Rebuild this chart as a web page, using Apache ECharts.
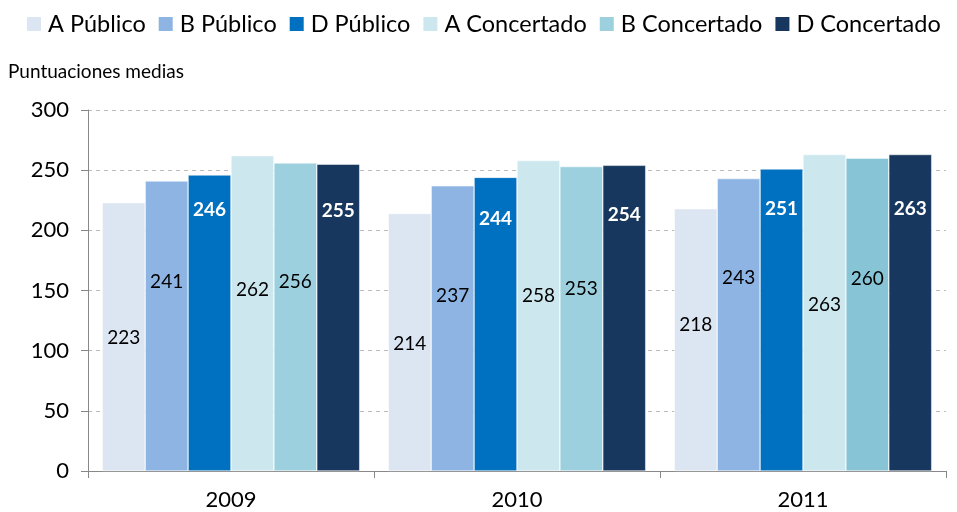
<!DOCTYPE html>
<html>
<head>
<meta charset="utf-8">
<script src="https://cdn.jsdelivr.net/npm/echarts@6/dist/echarts.min.js"></script>
<style>
  html, body { margin: 0; padding: 0; background: #fff; }
  #chart { width: 957px; height: 512px; }
</style>
</head>
<body>
<div id="chart"></div>
<script>
const years = ['2009', '2010', '2011'];
const seriesNames = ['A Público', 'B Público', 'D Público', 'A Concertado', 'B Concertado', 'D Concertado'];
const aPublico = [223, 214, 218];
const bPublico = [241, 237, 243];
const dPublico = [246, 244, 251];
const aConcertado = [262, 258, 263];
const bConcertado = [256, 253, 260];
const dConcertado = [255, 254, 263];
const yTicks = [0, 50, 100, 150, 200, 250, 300];

const values = [aPublico, bPublico, dPublico, aConcertado, bConcertado, dConcertado];
const colors = ['#dce6f2', '#8eb4e3', '#0070c0', '#cde7ef', '#9dd0de', '#17375e'];
// where each label sits below its bar top (px), as in the original layout
const labelOffsets = [
    [135, 130, 116],
    [101, 110, 99],
    [35, 41, 40],
    [134, 135, 150],
    [119, 122, 121],
    [47, 50, 54]
];
const boldWhite = [false, false, true, false, false, true];

const font = 'Lato, "Open Sans", sans-serif';

let chart = echarts.init(document.getElementById('chart'));

chart.setOption({
    animation: false,
    textStyle: {fontFamily: font},
    color: colors,
    legend: {
        top: 12,
        left: 25,
        width: 932,
        padding: 0,
        itemWidth: 16,
        itemHeight: 16,
        itemGap: 11,
        icon: 'rect',
        textStyle: {fontSize: 23.5, color: '#000', fontFamily: font, padding: [0, 0, 0, 1]},
        data: seriesNames
    },
    graphic: [{
        type: 'text',
        left: 8,
        top: 62,
        style: {text: 'Puntuaciones medias', fontSize: 19, fill: '#000', fontFamily: font}
    }],
    grid: {left: 88, right: 11, top: 110, bottom: 41},
    xAxis: {
        type: 'category',
        data: years,
        axisLine: {lineStyle: {color: '#888'}},
        axisTick: {show: true, length: 7, lineStyle: {color: '#888'}},
        axisLabel: {fontSize: 22, color: '#000', margin: 18}
    },
    yAxis: {
        type: 'value',
        min: yTicks[0],
        max: yTicks[yTicks.length - 1],
        interval: 50,
        axisLine: {show: true, lineStyle: {color: '#888'}},
        axisTick: {show: true, length: 7, lineStyle: {color: '#888'}},
        axisLabel: {fontSize: 22, color: '#000', margin: 19},
        splitLine: {lineStyle: {color: '#bbb', type: [4, 4]}}
    },
    series: seriesNames.map((name, i) => ({
        name: name,
        type: 'bar',
        barGap: '0%',
        barCategoryGap: '10%',
        itemStyle: {color: colors[i], borderColor: '#fff', borderWidth: 0.5},
        label: {
            show: true,
            align: 'center',
            verticalAlign: 'middle',
            fontSize: 19,
            fontFamily: font,
            color: boldWhite[i] ? '#fff' : '#000',
            fontWeight: boldWhite[i] ? 'bold' : 'normal'
        },
        data: values[i].map((v, j) => {
            const item = {value: v, label: {position: ['50%', labelOffsets[i][j]]}};
            if (i === 4 && j === 2) item.itemStyle = {color: '#87c4d6'};
            return item;
        })
    }))
});
</script>
</body>
</html>
